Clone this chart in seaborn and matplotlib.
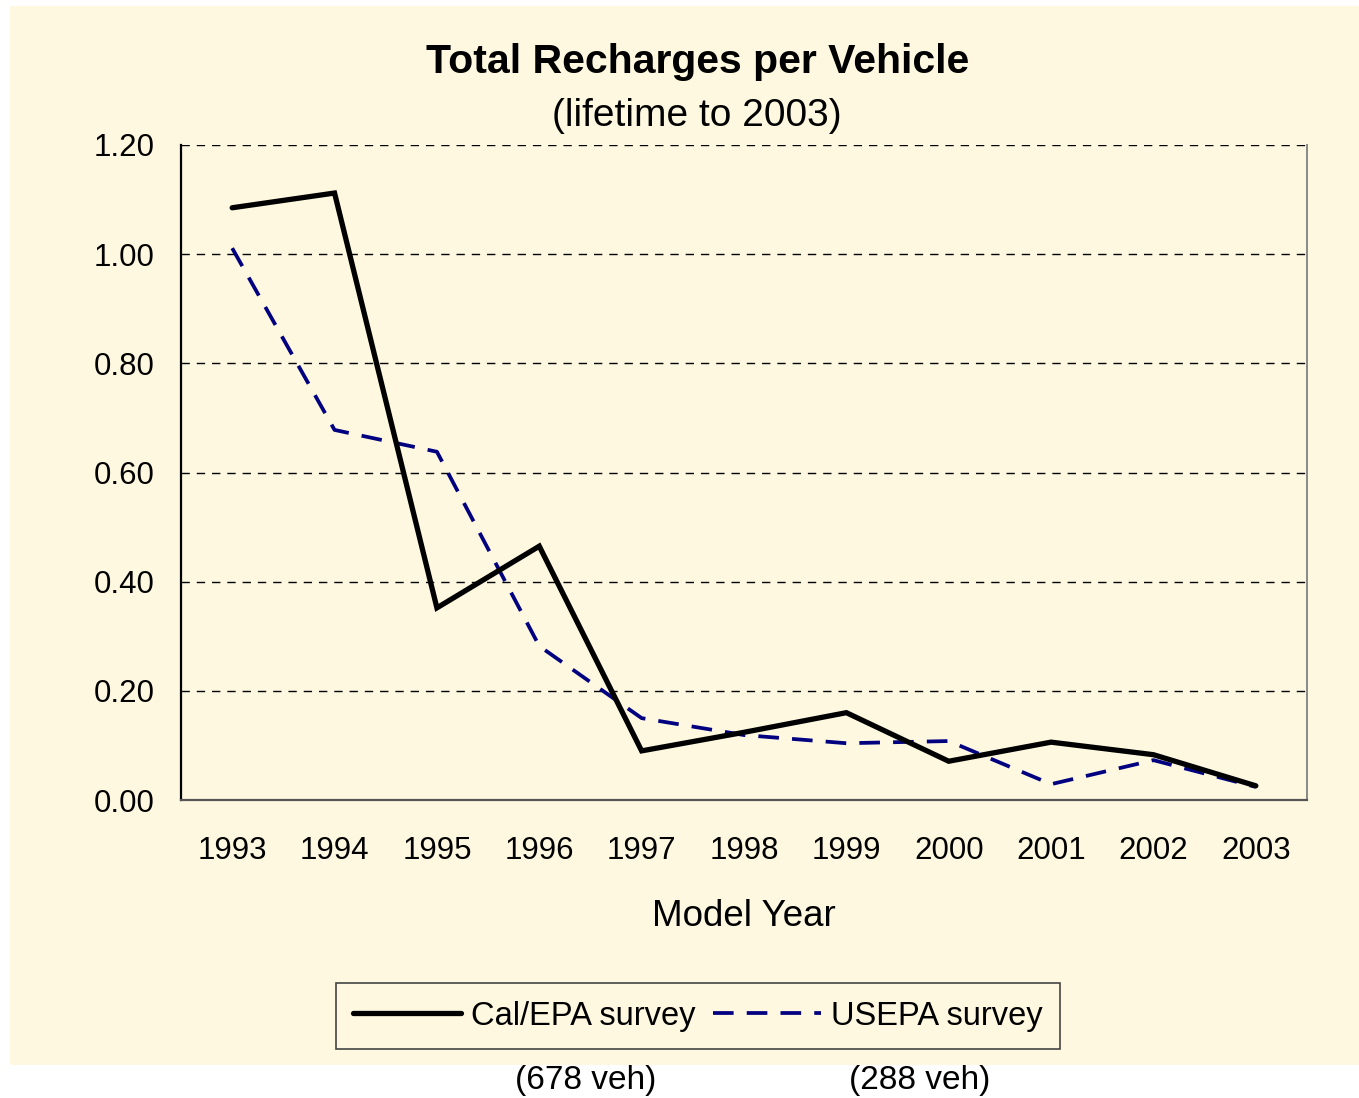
import pandas as pd
import numpy as np
import matplotlib
matplotlib.use("Agg")
import matplotlib.pyplot as plt
import seaborn as sns
from matplotlib.patches import Rectangle
from matplotlib.lines import Line2D

years = [1993, 1994, 1995, 1996, 1997, 1998, 1999, 2000, 2001, 2002, 2003]
cal_epa = [1.085, 1.112, 0.352, 0.465, 0.090, 0.124, 0.160, 0.071, 0.106, 0.083, 0.026]
usepa = [1.011, 0.678, 0.638, 0.282, 0.150, 0.119, 0.104, 0.108, 0.029, 0.073, 0.024]
series_names = ["Cal/EPA survey", "USEPA survey"]
sample_sizes = ["(678 veh)", "(288 veh)"]
y_ticks = [0.0, 0.2, 0.4, 0.6, 0.8, 1.0, 1.2]

cream = "#FEF8E0"
navy = "#000080"

sns.set_style("white")
plt.rcParams['font.family'] = ['Liberation Sans', 'DejaVu Sans']
plt.rcParams['text.color'] = 'black'
plt.rcParams['axes.labelcolor'] = 'black'
plt.rcParams['xtick.color'] = 'black'
plt.rcParams['ytick.color'] = 'black'

fig = plt.figure(figsize=(13.59, 10.98), dpi=100)
fig.patch.set_facecolor("white")
# cream chart area (the picture has a white strip under it)
fig.patches.append(Rectangle((10 / 1359, 1 - 1065 / 1098), 1349 / 1359, 1059 / 1098,
                             transform=fig.transFigure, facecolor=cream,
                             edgecolor="none", zorder=-10))

ax = fig.add_axes([181 / 1359, 1 - 800 / 1098, 1126 / 1359, 655 / 1098])
ax.set_facecolor(cream)

df_cal = pd.DataFrame({"year": years, "value": cal_epa})
df_us = pd.DataFrame({"year": years, "value": usepa})
sns.lineplot(data=df_us, x="year", y="value", ax=ax, color=navy, linewidth=2.7,
             linestyle=(0, (5.5, 3.5)), zorder=3)
sns.lineplot(data=df_cal, x="year", y="value", ax=ax, color="black", linewidth=3.8,
             solid_joinstyle="miter", zorder=4)

ax.set_xlim(years[0] - 0.5, years[-1] + 0.5)
ax.set_ylim(0, 1.2)
ax.set_yticks(y_ticks)
ax.set_yticklabels([f"{v:.2f}" for v in y_ticks])
ax.set_xticks(years)
ax.set_xticklabels([str(y) for y in years])
ax.set_xticks(np.arange(years[0] - 0.5, years[-1] + 1, 1.0), minor=True)

for v in y_ticks[1:]:
    ax.axhline(v, color="black", linewidth=1.0, linestyle=(0, (6, 5)), zorder=1)

ax.tick_params(axis="x", which="major", length=0, pad=26, labelsize=22.5)
ax.tick_params(axis="x", which="minor", length=8, width=1.5, color="#777777", direction="out")
ax.tick_params(axis="y", length=7, width=1.2, color="black", direction="out", pad=12, labelsize=22.5)

ax.spines["left"].set_color("black")
ax.spines["left"].set_linewidth(1.6)
ax.spines["bottom"].set_color("#555555")
ax.spines["bottom"].set_linewidth(1.6)
ax.spines["right"].set_color("#888888")
ax.spines["right"].set_linewidth(1.4)
ax.spines["top"].set_visible(False)

ax.set_xlabel("Model Year", fontsize=26.5, labelpad=24, color="black")
ax.set_ylabel("")

fig.text(0.513, 1 - 62 / 1098, "Total Recharges per Vehicle", ha="center", va="center",
         fontsize=29.5, fontweight="bold", color="black")
fig.text(0.513, 1 - 116 / 1098, "(lifetime to 2003)", ha="center", va="center",
         fontsize=28, color="black")

handles = [Line2D([], [], color="black", linewidth=3.8),
           Line2D([], [], color=navy, linewidth=2.7, linestyle=(0, (5.5, 3.5)))]
leg = ax.legend(handles, series_names, loc="center", ncol=2,
                bbox_to_anchor=(698 / 1359, 1 - 1016 / 1098), bbox_transform=fig.transFigure,
                fontsize=23.5, frameon=True, fancybox=False, framealpha=1,
                facecolor=cream, edgecolor="#444444", handlelength=3.3,
                handletextpad=0.3, columnspacing=0.55, borderpad=0.55)
leg.get_frame().set_linewidth(1.2)
for t in leg.get_texts():
    t.set_color("black")

fig.text(586 / 1359, 1 - 1080 / 1098, sample_sizes[0], ha="center", va="center",
         fontsize=24, color="black")
fig.text(920 / 1359, 1 - 1080 / 1098, sample_sizes[1], ha="center", va="center",
         fontsize=24, color="black")

fig.savefig("out.png", dpi=100, facecolor=fig.get_facecolor())
